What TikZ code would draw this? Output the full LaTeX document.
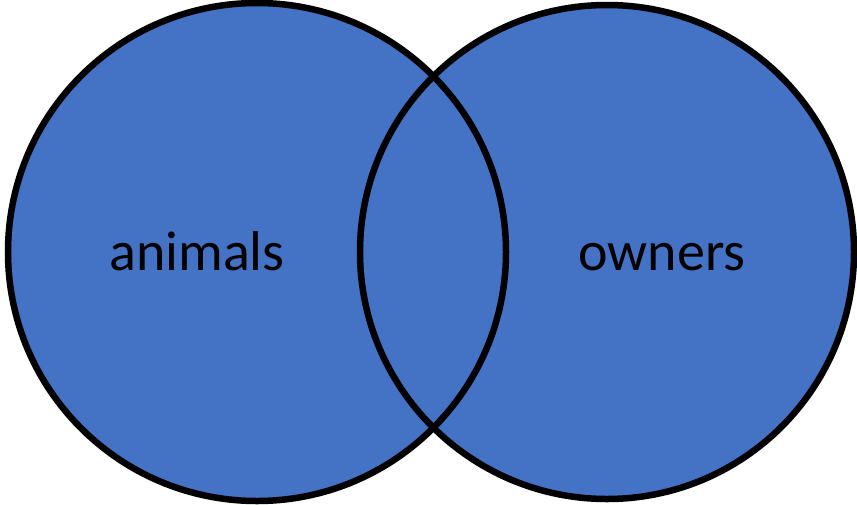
\documentclass[tikz,border=0pt]{standalone}
\usepackage{fontspec}
\setmainfont{Carlito}
\definecolor{setblue}{HTML}{4472C4}
\begin{document}
\begin{tikzpicture}[x=1pt,y=-1pt,
  setline/.style={draw=black,line width=6.5pt},
  setlabel/.style={font=\fontsize{56}{64}\selectfont,text=black,anchor=base,inner sep=0pt}]
\useasboundingbox (0,0) rectangle (857,504);
\fill[setblue] (257,252) circle[radius=249];
\fill[setblue] (607,252) circle[radius=247];
\draw[setline] (257,252) circle[radius=249];
\draw[setline] (607,252) circle[radius=247];
\node[setlabel] (animals) at (197,270) {animals};
\node[setlabel] (owners) at (662,270) {owners};
\end{tikzpicture}
\end{document}
